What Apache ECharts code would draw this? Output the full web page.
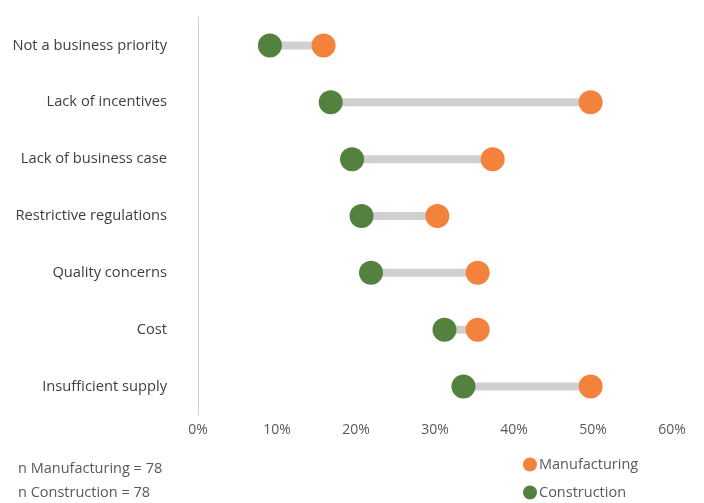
<!DOCTYPE html>
<html>
<head>
<meta charset="utf-8">
<script src="https://cdn.jsdelivr.net/npm/echarts@6/dist/echarts.min.js"></script>
<style>
  html, body { margin: 0; padding: 0; background: #fff; }
  #chart { width: 704px; height: 503px; }
</style>
</head>
<body>
<div id="chart"></div>
<script>
// categories, top to bottom
const categories = [
  'Not a business priority',
  'Lack of incentives',
  'Lack of business case',
  'Restrictive regulations',
  'Quality concerns',
  'Cost',
  'Insufficient supply'
];
// shares of respondents (fraction)
const manufacturing = [0.159, 0.497, 0.373, 0.303, 0.354, 0.354, 0.497];
const construction = [0.091, 0.168, 0.195, 0.207, 0.219, 0.312, 0.336];
const xTicks = [0, 0.1, 0.2, 0.3, 0.4, 0.5, 0.6];

const ORANGE = '#f3833c';
const GREEN = '#53823f';
const FONT = 'Open Sans';

// connector bars: invisible offset + grey span
const barBase = manufacturing.map((m, i) => Math.min(m, construction[i]));
const barSpan = manufacturing.map((m, i) => Math.abs(m - construction[i]));

const chart = echarts.init(document.getElementById('chart'));

const legendText = { fontFamily: FONT, fontSize: 14.5, color: '#595959', padding: [0, 0, 0, -3] };

const option = {
  animation: false,
  textStyle: { fontFamily: FONT },
  title: {
    text: 'n Manufacturing = 78\nn Construction = 78',
    left: 13,
    top: 452,
    textStyle: { fontFamily: FONT, fontSize: 14.5, fontWeight: 'normal', color: '#595959', lineHeight: 24 }
  },
  legend: [
    {
      left: 518,
      top: 452,
      itemWidth: 14,
      itemHeight: 14,
      data: [{ name: 'Manufacturing', icon: 'circle' }],
      textStyle: legendText
    },
    {
      left: 518,
      top: 480,
      itemWidth: 14,
      itemHeight: 14,
      data: [{ name: 'Construction', icon: 'circle' }],
      textStyle: legendText
    }
  ],
  grid: { left: 198, right: 32, top: 17, bottom: 88 },
  xAxis: {
    type: 'value',
    min: xTicks[0],
    max: xTicks[xTicks.length - 1],
    interval: 0.1,
    axisLine: { show: false },
    axisTick: { show: false },
    splitLine: { show: false },
    axisLabel: {
      color: '#595959',
      fontSize: 14,
      margin: 8,
      formatter: v => Math.round(v * 100) + '%'
    }
  },
  yAxis: {
    type: 'category',
    inverse: true,
    data: categories,
    axisLine: { show: true, lineStyle: { color: '#d0d0d0', width: 1 } },
    axisTick: { show: false },
    axisLabel: { color: '#404040', fontSize: 14.7, margin: 31, padding: [6, 0, 0, 0] }
  },
  series: [
    {
      type: 'bar',
      stack: 'gap',
      data: barBase,
      barWidth: 8,
      itemStyle: { color: 'transparent' },
      silent: true
    },
    {
      type: 'bar',
      stack: 'gap',
      data: barSpan,
      barWidth: 8,
      itemStyle: { color: '#cfd0cf' },
      silent: true
    },
    {
      name: 'Manufacturing',
      type: 'scatter',
      data: manufacturing.map((v, i) => [v, i]),
      symbolSize: 24,
      itemStyle: { color: ORANGE, opacity: 1 },
      z: 3
    },
    {
      name: 'Construction',
      type: 'scatter',
      data: construction.map((v, i) => [v, i]),
      symbolSize: 24,
      itemStyle: { color: GREEN, opacity: 1 },
      z: 3
    }
  ]
};

chart.setOption(option);
</script>
</body>
</html>
